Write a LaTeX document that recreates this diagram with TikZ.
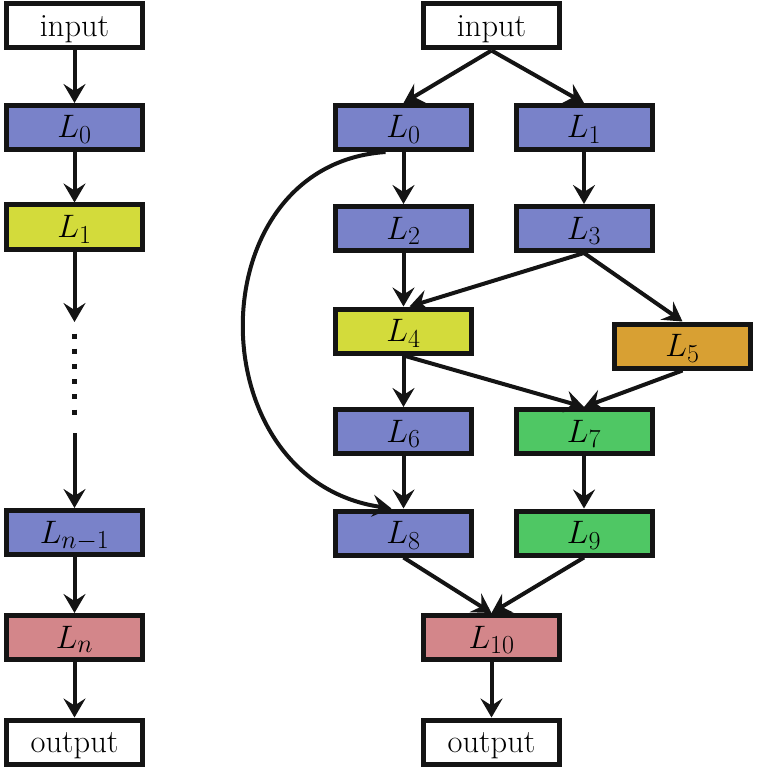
\RequirePackage{fix-cm}
\documentclass[tikz,border=0pt]{standalone}
\usetikzlibrary{arrows.meta,calc}
\DeclareMathSizes{32.5}{32.5}{26}{20}
\definecolor{cblue}{RGB}{121,130,201}
\definecolor{cyellow}{RGB}{211,219,59}
\definecolor{corange}{RGB}{216,160,51}
\definecolor{cgreen}{RGB}{79,199,100}
\definecolor{cpink}{RGB}{211,134,138}
\begin{document}
\begin{tikzpicture}[x=1pt,y=-1pt,
  box/.style={draw=black!92,line width=5pt,minimum width=136pt,minimum height=44pt,inner sep=0pt,text height=27pt,text depth=6pt,font=\fontsize{32.5}{38}\selectfont},
  conn/.style={line width=4pt,black!92,-{Stealth[length=19pt,width=22pt,inset=7pt]}}]
\useasboundingbox (0,0) rectangle (759,767);
% left column
\node[box,fill=white] (a0) at (74.5,26) {input};
\node[box,fill=cblue] (a1) at (74.5,127.5) {$L_0$};
\node[box,fill=cyellow] (a2) at (74.5,227) {$L_1$};
\node[box,fill=cblue] (a3) at (74.5,532.5) {$L_{n-1}$};
\node[box,fill=cpink] (a4) at (74.5,637.5) {$L_n$};
\node[box,fill=white] (a5) at (74.5,742) {output};
\coordinate (u1) at (74.5,322);
\coordinate (d1) at (74.5,333.5);
\coordinate (d2) at (74.5,416);
\coordinate (u2) at (74.5,433);
\draw[conn] (a0) -- (a1);
\draw[conn] (a1) -- (a2);
\draw[conn] (a2) -- (u1);
\draw[line width=5pt,black!92,dash pattern=on 5pt off 10.2pt] (d1) -- (d2);
\draw[conn] (u2) -- (a3);
\draw[conn] (a3) -- (a4);
\draw[conn] (a4) -- (a5);
% right
\node[box,fill=white] (in) at (491.5,26) {input};
\node[box,fill=cblue] (L0) at (403.5,127.5) {$L_0$};
\node[box,fill=cblue] (L1) at (584,127.5) {$L_1$};
\node[box,fill=cblue] (L2) at (403.5,228.5) {$L_2$};
\node[box,fill=cblue] (L3) at (584,228.5) {$L_3$};
\node[box,fill=cyellow] (L4) at (403.5,331) {$L_4$};
\node[box,fill=corange] (L5) at (682.5,346) {$L_5$};
\node[box,fill=cblue] (L6) at (403.5,431.5) {$L_6$};
\node[box,fill=cgreen] (L7) at (584,431.5) {$L_7$};
\node[box,fill=cblue] (L8) at (403.5,533) {$L_8$};
\node[box,fill=cgreen] (L9) at (584,533) {$L_9$};
\node[box,fill=cpink] (L10) at (491.5,637.5) {$L_{10}$};
\node[box,fill=white] (out) at (491.5,742) {output};
\draw[conn] (in.south) -- (L0.north);
\draw[conn] (in.south) -- (L1.north);
\draw[conn] (L0) -- (L2);
\draw[conn] (L1) -- (L3);
\draw[conn] (L2) -- (L4);
\draw[conn] (L3.south) -- ($(L4.north)+(6,0)$);
\draw[conn] (L3.south) -- (L5.north);
\draw[conn] (L4.south) -- (L7.north);
\draw[conn] (L5.south) -- (L7.north);
\draw[conn] (L4) -- (L6);
\draw[conn] (L6) -- (L8);
\draw[conn] (L7) -- (L9);
\draw[conn] (L8.south) -- (L10.north);
\draw[conn] (L9.south) -- (L10.north);
\draw[conn] (L10) -- (out);
\draw[conn] ($(L0.south)+(-18,0)$) .. controls (196,165) and (196,480) .. ($(L8.north)+(-12,0)$);
\end{tikzpicture}
\end{document}
